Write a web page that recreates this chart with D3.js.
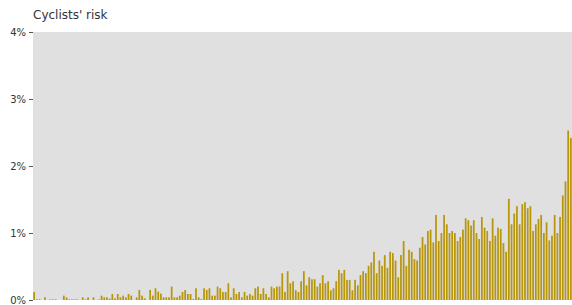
<!DOCTYPE html>
<html>
<head>
<meta charset="utf-8">
<script src="https://cdn.jsdelivr.net/npm/d3@7"></script>
<style>
  body { margin: 0; background: #fff; }
  text { font-family: "DejaVu Sans", Verdana, sans-serif; fill: #333; }
</style>
</head>
<body>
<div class="graph"></div>
<script>
  // risk in percent, one value per period (200 periods)
  const risk = [
    0.12, 0.01, 0.01, 0, 0.04, 0, 0.01, 0.01, 0.01, 0, 0, 0.065, 0.04, 0.01, 0.01, 0.01, 0.01, 0, 0.04, 0.01, 0.04, 0, 0.04, 0, 0.01, 0.065, 0.04, 0.04, 0.02,
    0.09, 0.025, 0.09, 0.04, 0.065, 0.04, 0.09, 0.065, 0, 0.04, 0.15, 0.065, 0.025, 0, 0.15, 0.065, 0.175, 0.125, 0.095, 0.04, 0.04, 0.04, 0.2, 0.04, 0.04, 0.065, 0.12, 0.15, 0.09,
    0.09, 0.015, 0.175, 0.04, 0.015, 0.175, 0.15, 0.175, 0.065, 0.065, 0.2, 0.175, 0.12, 0.12, 0.25, 0.04, 0.175, 0.09, 0.12, 0.04, 0.12, 0.065, 0.09, 0.065, 0.175, 0.2, 0.09, 0.175, 0.09,
    0.04, 0.2, 0.175, 0.2, 0.2, 0.4, 0.12, 0.43, 0.25, 0.28, 0.145, 0.12, 0.28, 0.43, 0.22, 0.34, 0.31, 0.31, 0.2, 0.25, 0.37, 0.25, 0.28, 0.145, 0.175, 0.28, 0.45, 0.4, 0.45,
    0.3, 0.3, 0.145, 0.3, 0.22, 0.37, 0.43, 0.4, 0.51, 0.56, 0.72, 0.4, 0.59, 0.51, 0.67, 0.48, 0.72, 0.7, 0.59, 0.34, 0.67, 0.88, 0.51, 0.75, 0.72, 0.61, 0.59, 0.78, 0.94,
    0.83, 1.03, 1.05, 0.86, 1.27, 0.88, 1.0, 1.27, 1.13, 1.0, 1.03, 1.0, 0.88, 0.94, 1.05, 1.22, 1.19, 1.11, 1.19, 1.0, 0.91, 1.24, 1.08, 1.03, 0.88, 1.22, 0.96, 1.08, 1.06,
    0.85, 0.72, 1.51, 1.13, 1.29, 1.4, 1.13, 1.43, 1.46, 1.37, 1.4, 1.03, 1.13, 1.21, 1.27, 1.0, 1.16, 0.89, 0.96, 1.27, 1.0, 1.24, 1.56, 1.77, 2.53, 2.42
  ];
  const periods = risk.map((d, i) => i);
  const yTicks = [0, 1, 2, 3, 4];
  const title = "Cyclists' risk";

  const data = periods.map((p, i) => ({ period: p, value: risk[i] }));

  const margin = { top: 32, left: 33, bottom: 5, right: 0 };
  const width = 572 - margin.left - margin.right;
  const height = 305 - margin.top - margin.bottom;

  const xScale = d3.scaleBand()
    .domain(periods)
    .range([0, width])
    .paddingInner(0.35)
    .paddingOuter(0.1);

  const yScale = d3.scaleLinear()
    .domain([0, 4])
    .range([height, 0]);

  const svg = d3.select('.graph')
    .append('svg')
    .attr('width', width + margin.left + margin.right)
    .attr('height', height + margin.top + margin.bottom)
    .append('g')
    .attr('transform', `translate(${margin.left},${margin.top})`);

  svg.append('rect')
    .attr('width', width)
    .attr('height', height)
    .attr('fill', '#e0e0e0');

  svg.selectAll('.bars')
    .data(data)
    .enter()
    .append('rect')
    .attr('class', 'bars')
    .attr('fill', '#b8960c')
    .attr('x', d => xScale(d.period))
    .attr('width', xScale.bandwidth())
    .attr('y', d => yScale(d.value))
    .attr('height', d => height - yScale(d.value));

  const yAxis = d3.axisLeft(yScale)
    .tickValues(yTicks)
    .tickSize(4)
    .tickFormat(d => d + '%');

  svg.append('g')
    .attr('class', 'y-axis')
    .call(yAxis)
    .call(g => g.select('.domain').remove())
    .call(g => g.selectAll('line').attr('stroke', '#555'))
    .call(g => g.selectAll('text').attr('font-size', 10).attr('fill', '#333'));

  svg.append('text')
    .attr('x', 0)
    .attr('y', -13)
    .attr('font-size', 12)
    .text(title);
</script>
</body>
</html>
